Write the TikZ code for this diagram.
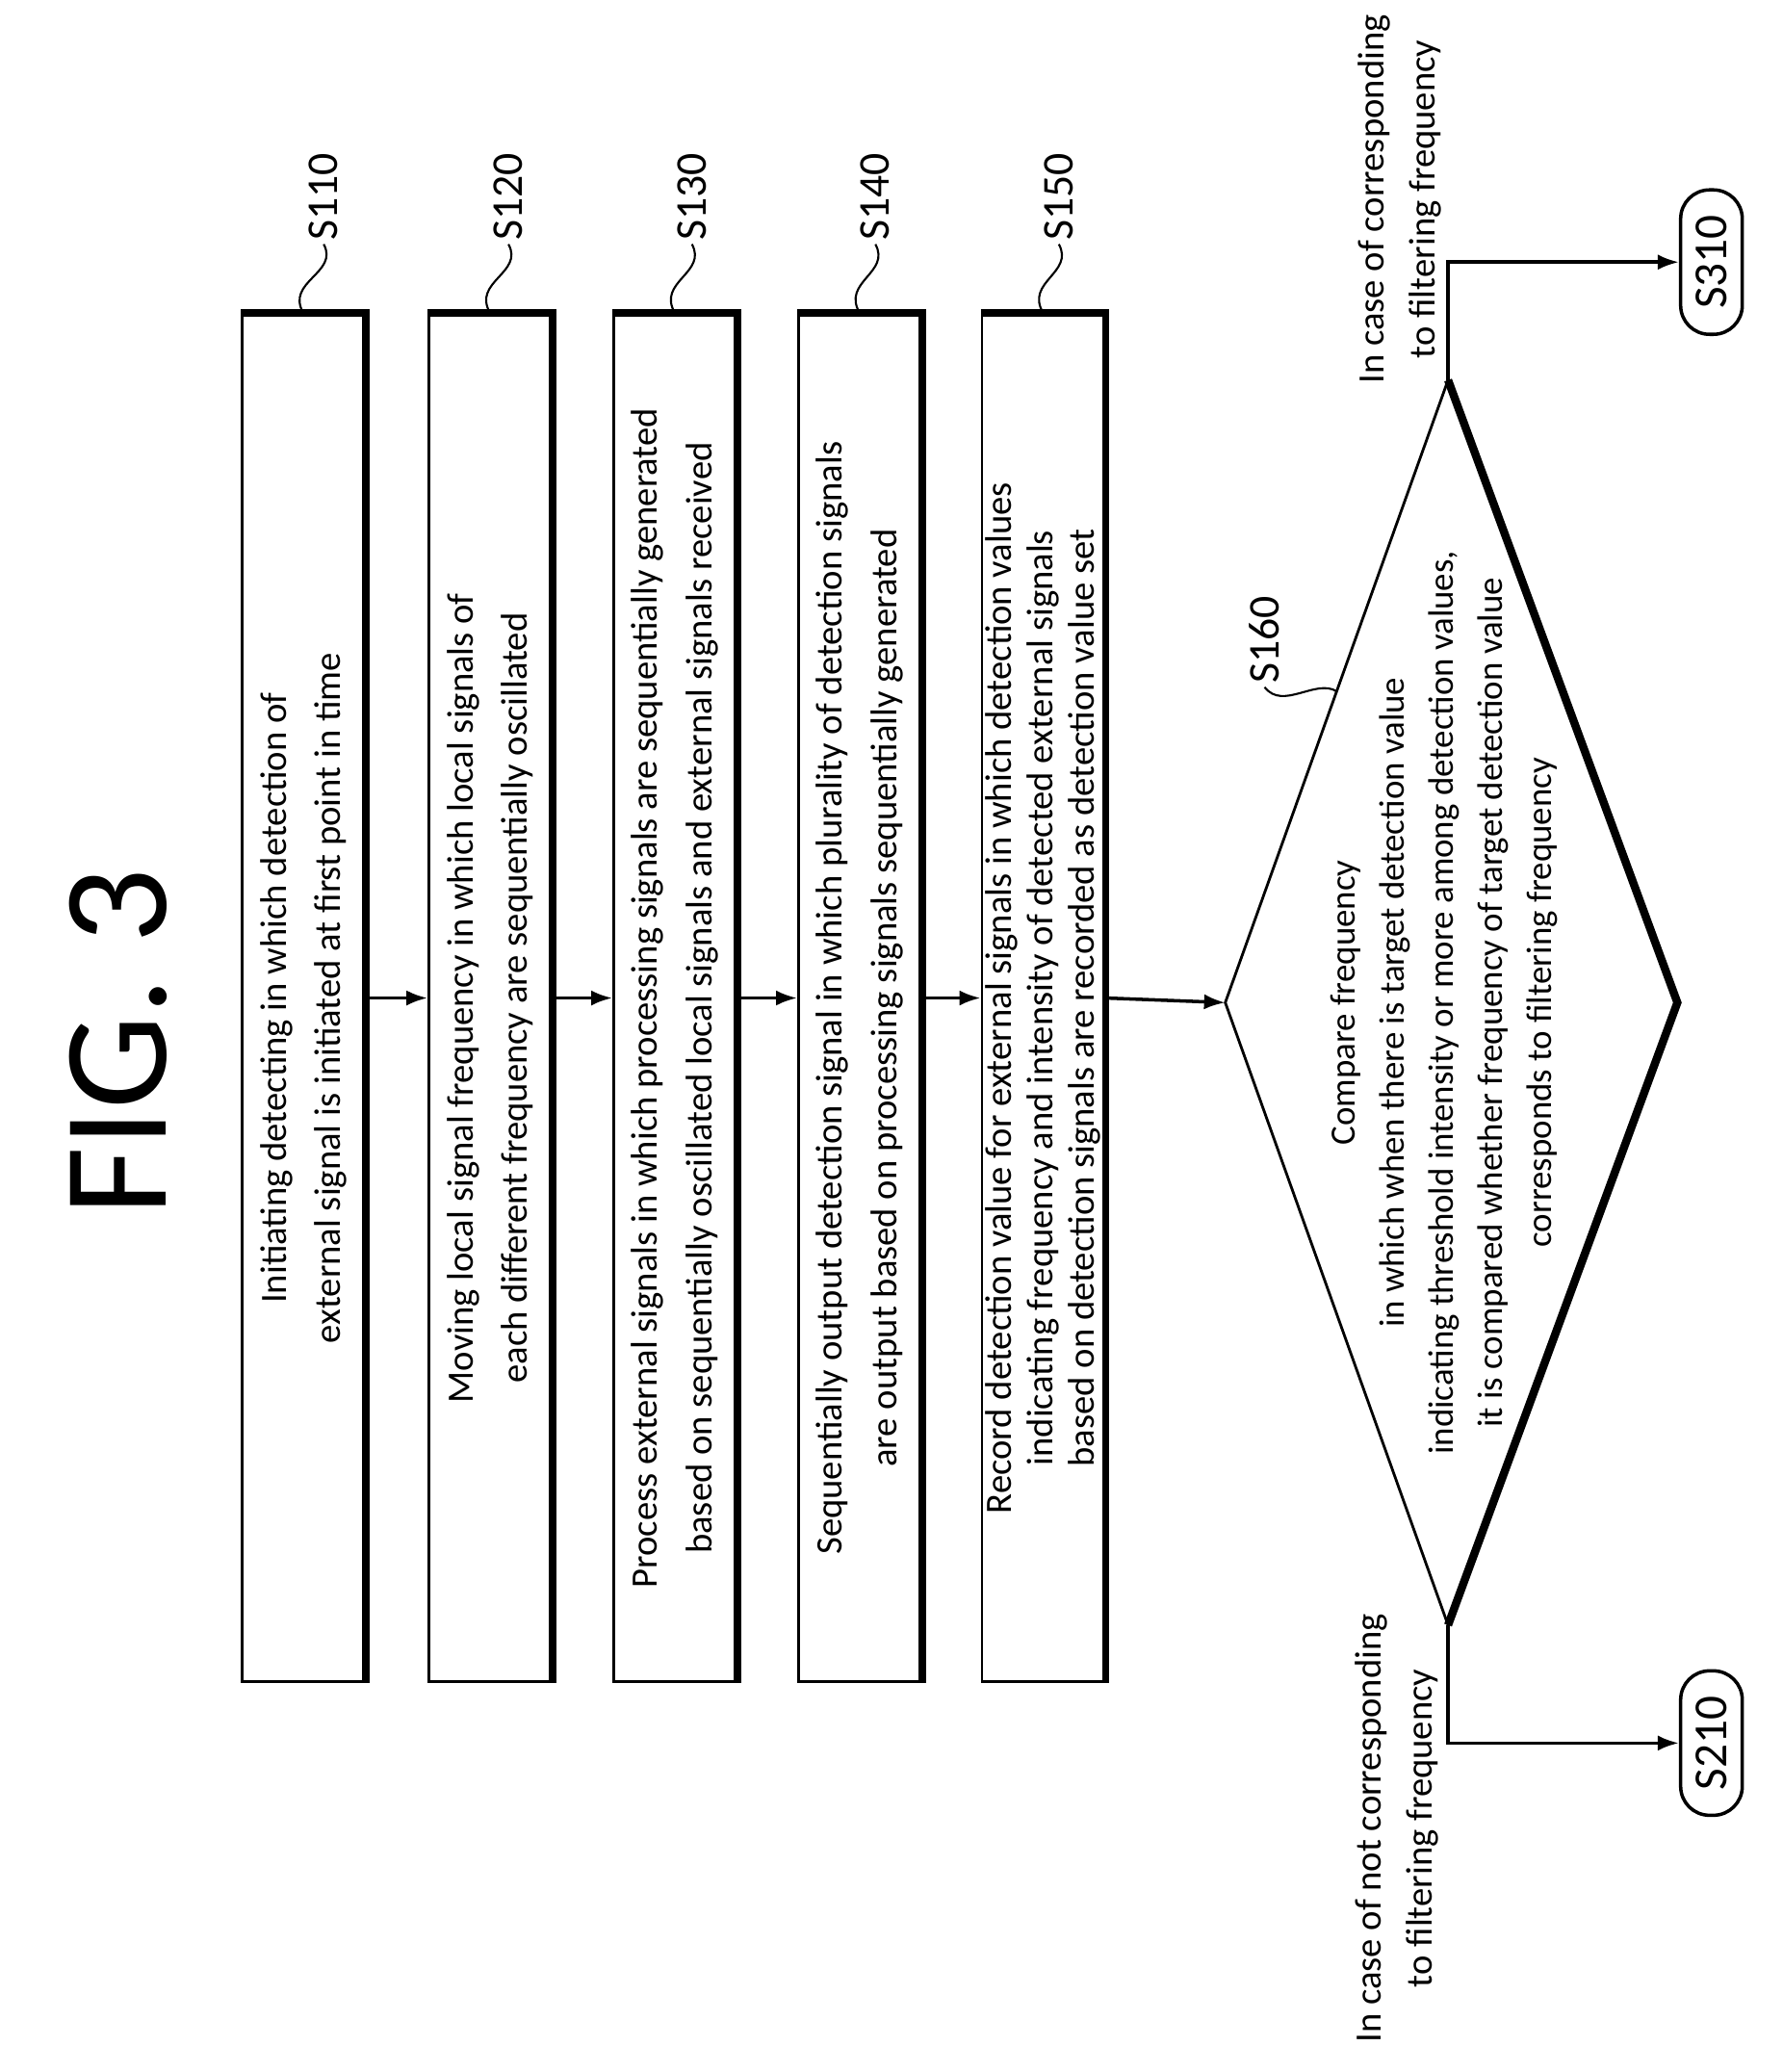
\documentclass[tikz,border=0pt]{standalone}
\usepackage{fontspec}
\setmainfont{Carlito}
\usetikzlibrary{arrows.meta,calc}

\begin{document}
\begin{tikzpicture}[x=0.01361cm,y=-0.01361cm,
	stepbox/.style={draw, line width=0.8pt, rotate=90, minimum width=14.2cm, minimum height=1.27cm,
		align=center, inner sep=1pt, font=\fontsize{11}{16}\selectfont},
	term/.style={draw, line width=1pt, rotate=90, rounded corners=0.3cm, minimum width=1.5cm,
		minimum height=0.64cm, inner sep=1pt, font=\fontsize{14}{14}\selectfont},
	tag/.style={rotate=90, inner sep=1pt, font=\fontsize{13}{13}\selectfont},
	note/.style={rotate=90, align=center, font=\fontsize{11}{15}\selectfont},
	arr/.style={-{Latex[length=2.2mm,width=1.6mm]}, line width=1pt}]
\useasboundingbox (0,0) rectangle (1360,1581);

\node[rotate=90, font=\fontsize{44}{44}\selectfont] (title) at (90,795) {FIG. 3};

\node[stepbox] (b1) at (231.5,761.5) {Initiating detecting in which detection of\\external signal is initiated at first point in time};
\node[stepbox] (b2) at (374,761.5) {Moving local signal frequency in which local signals of\\each different frequency are sequentially oscillated};
\node[stepbox] (b3) at (515,761.5) {Process external signals in which processing signals are sequentially generated\\based on sequentially oscillated local signals and external signals received};
\node[stepbox] (b4) at (656,761.5) {Sequentially output detection signal in which plurality of detection signals\\are output based on processing signals sequentially generated};
\node[stepbox, font=\fontsize{11}{12.3}\selectfont] (b5) at (796,761.5) {Record detection value for external signals in which detection values\\indicating frequency and intensity of detected external signals\\based on detection signals are recorded as detection value set};

% shadow edges
\foreach \b in {b1,b2,b3,b4,b5}
	\draw[line width=2.2pt] (\b.north east) -- (\b.south east) -- (\b.south west);

% labels
\foreach \b/\t/\x in {b1/S110/247,b2/S120/388,b3/S130/528,b4/S140/668,b5/S150/808}{
	\node[tag] (l\t) at (\x,150) {\t};
	\draw[line width=0.6pt] (\b.east) .. controls +(-14,-24) and +(12,22) .. (l\t.west);
}

% decision
\coordinate (dl) at (935,765);
\coordinate (dt) at (1105,290);
\coordinate (dr) at (1280,765);
\coordinate (db) at (1105,1240);
\draw[line width=0.8pt] (db) -- (dl) -- (dt);
\draw[line width=2.4pt] (dt) -- (dr) -- (db);
\node[note, font=\fontsize{10.5}{14.5}\selectfont] (cmp) at (1102,765) {Compare frequency\\in which when there is target detection value\\indicating threshold intensity or more among detection values,\\it is compared whether frequency of target detection value\\corresponds to filtering frequency};
\node[tag] (lS160) at (965,488) {S160};
\draw[line width=0.6pt] ($(dl)!0.5!(dt)$) .. controls +(-16,-10) and +(14,18) .. (lS160.west);

\foreach \a/\b in {b1/b2,b2/b3,b3/b4,b4/b5}
	\draw[arr] (\a.south) -- (\b.north);
\draw[arr] (b5.south) -- (dl);

% exits
\node[term] (s310) at (1306,200) {S310};
\node[term] (s210) at (1306,1330) {S210};
\draw[arr] (dt) |- (s310.north);
\draw[arr] (db) |- (s210.north);
\node[note] (yes) at (1068,152) {In case of corresponding\\to filtering frequency};
\node[note] (no) at (1066,1395) {In case of not corresponding\\to filtering frequency};
\end{tikzpicture}
\end{document}
